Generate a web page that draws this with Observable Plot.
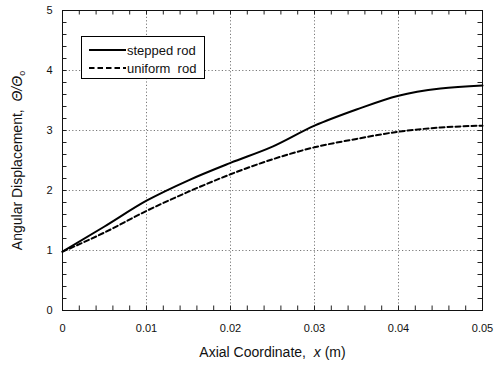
<!DOCTYPE html>
<html><head><meta charset="utf-8">
<script src="https://cdn.jsdelivr.net/npm/d3@7"></script>
<script src="https://cdn.jsdelivr.net/npm/@observablehq/plot@0.6"></script>
<style>
body{margin:0;background:#fff;font-family:"Liberation Sans",Arial,sans-serif;}
#wrap{position:relative;width:503px;height:370px;}
#legend{position:absolute;left:81px;top:36px;width:122px;height:41px;border:1px solid #000;background:#fff;font-size:13px;color:#111;}
.row{position:absolute;left:6px;display:flex;align-items:center;height:14px;}
</style>
</head><body>
<div id="wrap"></div>
<script>
const xs = [0, 0.005, 0.01, 0.015, 0.02, 0.025, 0.03, 0.035, 0.04, 0.045, 0.05];
const stepped = [0.98, 1.40, 1.83, 2.17, 2.46, 2.73, 3.08, 3.35, 3.58, 3.70, 3.75];
const uniform = [0.98, 1.30, 1.66, 1.98, 2.27, 2.52, 2.72, 2.86, 2.98, 3.05, 3.08];
const seriesNames = ["stepped rod", "uniform  rod"];
const xMajor = [0, 0.01, 0.02, 0.03, 0.04, 0.05];
const xTickLabels = ["0", "0.01", "0.02", "0.03", "0.04", "0.05"];
const yMajor = [0, 1, 2, 3, 4, 5];
const yTickLabels = ["0", "1", "2", "3", "4", "5"];
const xMinor = [0, 0.002, 0.004, 0.006, 0.008, 0.01, 0.012, 0.014, 0.016, 0.018, 0.02, 0.022, 0.024, 0.026, 0.028, 0.03, 0.032, 0.034, 0.036, 0.038, 0.04, 0.042, 0.044, 0.046, 0.048, 0.05];
const yMinor = [0, 0.2, 0.4, 0.6, 0.8, 1, 1.2, 1.4, 1.6, 1.8, 2, 2.2, 2.4, 2.6, 2.8, 3, 3.2, 3.4, 3.6, 3.8, 4, 4.2, 4.4, 4.6, 4.8, 5];

const data = [];
xs.forEach((x, i) => {
  data.push({x, v: stepped[i], s: seriesNames[0]});
  data.push({x, v: uniform[i], s: seriesNames[1]});
});

const W = 503, H = 370, mL = 62, mR = 21, mT = 10, mB = 60;

const chart = Plot.plot({
  width: W, height: H,
  marginLeft: mL, marginRight: mR, marginTop: mT, marginBottom: mB,
  style: {fontFamily: "'Liberation Sans', Arial, sans-serif", fontSize: "11px", color: "#111", background: "#fff"},
  x: {domain: [0, 0.05]},
  y: {domain: [0, 5]},
  marks: [
    Plot.gridX(xMajor, {stroke: "#555", strokeOpacity: 1, strokeDasharray: "1.2,2.2", strokeWidth: 0.8}),
    Plot.gridY(yMajor, {stroke: "#555", strokeOpacity: 1, strokeDasharray: "1.2,2.2", strokeWidth: 0.8}),
    Plot.tickX(xMinor, {x: d => d, stroke: "#222", strokeWidth: 1, className: "mtx"}),
    Plot.tickY(yMinor, {y: d => d, stroke: "#222", strokeWidth: 1, className: "mty"}),
    Plot.axisX(xMajor, {anchor: "bottom", tickSize: 0, tickPadding: 14, tickFormat: (d, i) => xTickLabels[i], fontSize: 11, label: null}),
    Plot.axisY(yMajor, {anchor: "left", tickSize: 0, tickPadding: 10, tickFormat: (d, i) => yTickLabels[i], fontSize: 11, label: null}),
    Plot.frame({stroke: "#111", strokeWidth: 1}),
    Plot.line(data.filter(d => d.s === seriesNames[0]), {x: "x", y: "v", stroke: "#000", strokeWidth: 2, curve: "monotone-x"}),
    Plot.line(data.filter(d => d.s === seriesNames[1]), {x: "x", y: "v", stroke: "#000", strokeWidth: 2, strokeDasharray: "5,3", curve: "monotone-x"}),
    Plot.text(["xlabel"], {frameAnchor: "bottom", textAnchor: "middle", dy: 46, text: d => "Axial Coordinate,  x (m)", fontSize: 14, className: "xlab"}),
    Plot.text(["ylabel"], {frameAnchor: "left", textAnchor: "middle", dx: -45, dy: 0, rotate: -90, text: d => "Angular Displacement,  \u0398/\u0398o", fontSize: 14, className: "ylab"})
  ]
});
document.getElementById("wrap").appendChild(chart);

// Split each full-length minor tick into short inward ticks on opposite frame edges.
const TL = 4.5;
d3.select(chart).selectAll(".mtx line").each(function() {
  const l = d3.select(this);
  const y1 = +l.attr("y1"), y2 = +l.attr("y2");
  const top = Math.min(y1, y2), bot = Math.max(y1, y2);
  const c = l.node().cloneNode();
  this.parentNode.appendChild(c);
  l.attr("y1", bot - TL).attr("y2", bot);
  d3.select(c).attr("y1", top).attr("y2", top + TL);
});
d3.select(chart).selectAll(".mty line").each(function() {
  const l = d3.select(this);
  const x1 = +l.attr("x1"), x2 = +l.attr("x2");
  const lf = Math.min(x1, x2), rt = Math.max(x1, x2);
  const c = l.node().cloneNode();
  this.parentNode.appendChild(c);
  l.attr("x1", lf).attr("x2", lf + TL);
  d3.select(c).attr("x1", rt - TL).attr("x2", rt);
});

const xt = d3.select(chart).select(".xlab text");
xt.text(null);
xt.append("tspan").text("Axial Coordinate,  ");
xt.append("tspan").attr("font-style", "italic").text("x");
xt.append("tspan").text(" (m)");
const yt = d3.select(chart).select(".ylab text");
yt.text(null);
yt.append("tspan").text("Angular Displacement,  ");
yt.append("tspan").attr("font-style", "italic").text("\u0398/\u0398");
yt.append("tspan").attr("font-size", "9px").attr("dy", "3").text("o");

const leg = document.createElement("div");
leg.id = "legend";
seriesNames.forEach((name, i) => {
  const row = document.createElement("div");
  row.className = "row";
  row.style.top = (i === 0 ? 6 : 24) + "px";
  row.innerHTML = `<svg width="38" height="12"><line x1="1" y1="6" x2="38" y2="6" stroke="#000" stroke-width="2" ${i === 1 ? 'stroke-dasharray="5.5,3"' : ''}/></svg><span style="margin-left:1px">${name.replace(/ /g, "&nbsp;")}</span>`;
  leg.appendChild(row);
});
document.getElementById("wrap").appendChild(leg);
</script>
</body></html>
